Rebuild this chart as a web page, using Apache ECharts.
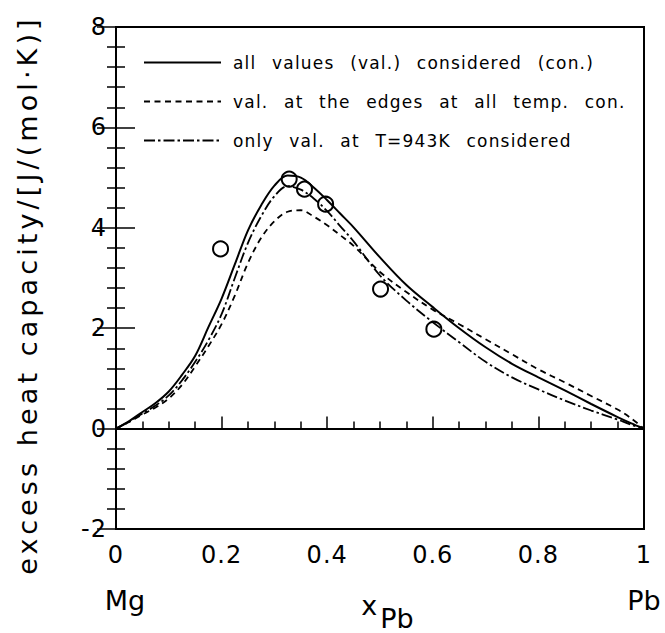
<!DOCTYPE html>
<html>
<head>
<meta charset="utf-8">
<script src="https://cdn.jsdelivr.net/npm/echarts@6/dist/echarts.min.js"></script>
<style>
html,body{margin:0;padding:0;background:#fff;}
#c{width:665px;height:633px;}
</style>
</head>
<body>
<div id="c"></div>
<script>
// composition grid (mole fraction of Pb)
const xs = [0,0.025,0.05,0.075,0.1,0.125,0.15,0.175,0.2,0.225,0.25,0.275,0.3,0.325,0.35,0.375,0.4,0.425,0.45,0.5,0.55,0.6,0.65,0.7,0.75,0.8,0.85,0.9,0.95,0.975,1];
// all values considered (solid)
const ySolid = [0,0.15,0.33,0.51,0.74,1.07,1.45,2.02,2.59,3.27,3.95,4.45,4.84,5.04,5.0,4.80,4.55,4.28,4.01,3.41,2.86,2.42,2.0,1.62,1.29,1.02,0.76,0.49,0.23,0.11,0];
// val. at the edges at all temp. con. (dashed)
const yDashed = [0,0.13,0.28,0.42,0.60,0.87,1.24,1.64,2.08,2.65,3.30,3.80,4.13,4.32,4.35,4.22,4.05,3.85,3.64,3.12,2.72,2.37,2.08,1.78,1.48,1.18,0.92,0.65,0.38,0.21,0];
// only val. at T=943K considered (dash-dot)
const yDashDot = [0,0.14,0.30,0.46,0.66,0.96,1.33,1.76,2.28,3.0,3.70,4.23,4.63,4.83,4.76,4.58,4.33,4.03,3.73,3.05,2.55,2.12,1.72,1.33,1.02,0.78,0.56,0.36,0.18,0.08,0];
// experimental points
const expX = [0.198,0.328,0.357,0.397,0.501,0.602];
const expY = [3.58,4.97,4.77,4.47,2.78,1.98];
// labels
const seriesNames = ['all values (val.) considered (con.)','val. at the edges at all temp. con.','only val. at T=943K considered'];
const yTicks = [-2,0,2,4,6,8];
const xTicks = [0,0.2,0.4,0.6,0.8,1];
const compLabels = ['Mg','Pb'];

const FONT = 'DejaVu Sans';
const pairs = ys => xs.map((x,i)=>[x,ys[i]]);

const chart = echarts.init(document.getElementById('c'), null, {renderer:'svg'});
const lineBase = {type:'line', showSymbol:false, symbol:'none', smooth:0.35, z:3};
chart.setOption({
  animation:false,
  backgroundColor:'#fff',
  textStyle:{fontFamily:FONT,color:'#000'},
  grid:{left:116,right:21,top:27,bottom:104,show:true,borderColor:'#000',borderWidth:2,backgroundColor:'transparent',
        containLabel:false,outerBoundsMode:'none'},
  legend:{
    data:seriesNames, orient:'vertical', left:138, top:49, itemWidth:77, itemHeight:14, itemGap:22,
    itemStyle:{opacity:0},
    textStyle:{fontFamily:FONT,fontSize:17,color:'#000',padding:[0,0,0,7]}, selectedMode:false
  },
  xAxis:[{
    type:'value', min:0, max:1, interval:0.2, position:'bottom',
    axisLine:{show:true,lineStyle:{color:'#000',width:2}},
    axisTick:{show:true,inside:true,length:12,lineStyle:{color:'#000',width:1.5}},
    minorTick:{show:true,splitNumber:4,length:7,lineStyle:{color:'#000',width:1.5}},
    splitLine:{show:false},
    axisLabel:{fontFamily:FONT,fontSize:24,color:'#000',margin:14,
      formatter:v=>{const t=xTicks.find(k=>Math.abs(k-v)<1e-6);return t===0||t===1?String(t):t.toFixed(1);}}
  },{
    type:'value', min:0, max:1, position:'bottom', offset:50,
    axisLine:{show:false}, axisTick:{show:false}, splitLine:{show:false},
    axisLabel:{customValues:[0,1],fontFamily:FONT,fontSize:27,color:'#000',margin:8,
      formatter:v=>v<0.5?'{m|'+compLabels[0]+'}':'{p|'+compLabels[1]+'}',
      rich:{m:{fontFamily:FONT,fontSize:27,color:'#000',padding:[0,0,0,18]},p:{fontFamily:FONT,fontSize:27,color:'#000'}}},
    name:'{x|x}{s|Pb}', nameLocation:'middle', nameGap:13, nameMoveOverlap:false,
    nameTextStyle:{rich:{x:{fontFamily:FONT,fontSize:27,color:'#000',verticalAlign:'top',padding:[0,3,0,15]},
                         s:{fontFamily:FONT,fontSize:27,color:'#000',verticalAlign:'top',padding:[13,0,0,0]}}}
  }],
  yAxis:[{
    type:'value', min:-2, max:8, interval:2, position:'left',
    axisLine:{show:true,lineStyle:{color:'#000',width:2}},
    axisTick:{show:true,inside:true,length:19,lineStyle:{color:'#000',width:1.5}},
    minorTick:{show:true,splitNumber:5,length:9,lineStyle:{color:'#000',width:1.5}},
    splitLine:{show:false},
    axisLabel:{fontFamily:FONT,fontSize:24,color:'#000',margin:9,formatter:v=>String(v)},
    name:'excess heat capacity/[J/(mol·K)]', nameLocation:'middle', nameGap:75, nameMoveOverlap:false,
    nameTextStyle:{fontFamily:FONT,fontSize:27,color:'#000',padding:[0,34,0,0]}
  },{
    type:'value', min:-2, max:8, interval:2, position:'right',
    axisLine:{show:true,lineStyle:{color:'#000',width:2}},
    axisTick:{show:true,inside:true,length:19,lineStyle:{color:'#000',width:1.5}},
    minorTick:{show:true,splitNumber:5,length:9,lineStyle:{color:'#000',width:1.5}},
    splitLine:{show:false}, axisLabel:{show:false}
  }],
  series:[
    Object.assign({},lineBase,{name:seriesNames[0],data:pairs(ySolid),
      lineStyle:{color:'#000',width:2,type:'solid'},itemStyle:{color:'#000'},
      markLine:{silent:true,symbol:'none',label:{show:false},lineStyle:{color:'#000',width:2,type:'solid'},data:[{yAxis:0}]}}),
    Object.assign({},lineBase,{name:seriesNames[1],data:pairs(yDashed),
      lineStyle:{color:'#000',width:1.8,type:[6,4.5]},itemStyle:{color:'#000'}}),
    Object.assign({},lineBase,{name:seriesNames[2],data:pairs(yDashDot),
      lineStyle:{color:'#000',width:1.8,type:[11,3,2.5,3]},itemStyle:{color:'#000'}}),
    {type:'scatter',name:'exp',data:expX.map((x,i)=>[x,expY[i]]),symbol:'circle',symbolSize:15,z:4,
      itemStyle:{color:'rgba(255,255,255,0)',borderColor:'#000',borderWidth:2,opacity:1}}
  ]
});
function spacing(){
  document.querySelectorAll('#c text').forEach(t=>{
    const fs=parseFloat(getComputedStyle(t).fontSize);
    const s=t.textContent;
    if(fs>=26){ if(s.length>5){t.style.letterSpacing='4.1px';} return; }
    if(fs>=23){t.style.letterSpacing='1px';}
    else {t.style.letterSpacing='1.2px';t.style.wordSpacing='9px';}
  });
}
chart.on('finished',spacing);
spacing();
</script>
</body>
</html>
